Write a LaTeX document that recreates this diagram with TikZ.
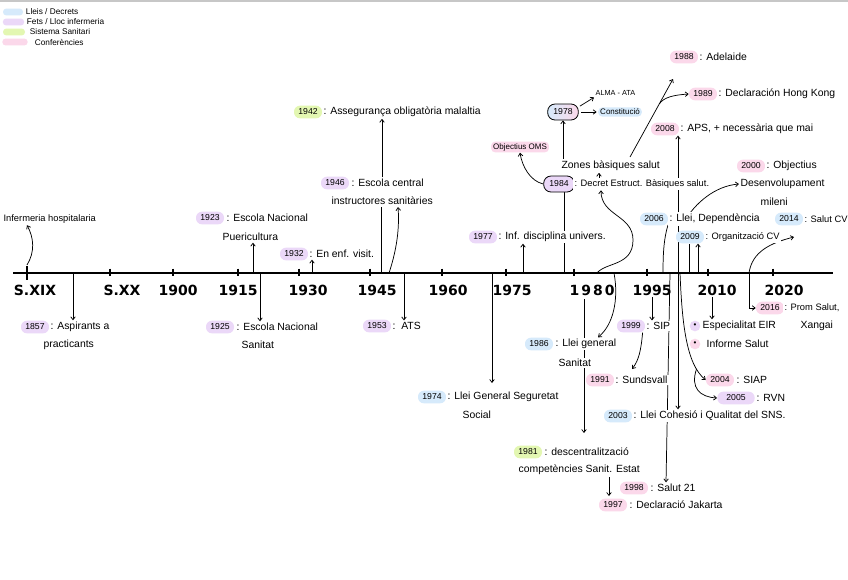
\documentclass[tikz,border=0pt]{standalone}
\usepackage{fontspec}
\setmainfont{Liberation Sans}
\newfontfamily\axisfont{DejaVu Sans}
\usetikzlibrary{arrows.meta,backgrounds}
\definecolor{cblue}{HTML}{D6EAFB}
\definecolor{cpurple}{HTML}{EBD8F8}
\definecolor{cgreen}{HTML}{E3F7B2}
\definecolor{cpink}{HTML}{FBD8EA}
\begin{document}
\begin{tikzpicture}[x=0.75pt,y=-0.75pt,
  >={Straight Barb[length=2.2pt,width=3.4pt]},
  yr/.style={rounded corners=4.5pt, minimum height=9.5pt, minimum width=21pt, inner xsep=1.5pt, inner ysep=0pt, font=\fontsize{6.5}{7}\selectfont},
  bl/.style={yr, fill=cblue}, pu/.style={yr, fill=cpurple}, gr/.style={yr, fill=cgreen}, pk/.style={yr, fill=cpink},
  oval/.style={yr, draw, line width=0.6pt, rounded corners=5.5pt, minimum height=12pt, minimum width=23pt},
  hl/.style={rounded corners=3pt, inner xsep=1.5pt, inner ysep=1.2pt, font=\fontsize{6}{7}\selectfont},
  txt/.style={anchor=west, inner xsep=1pt, inner ysep=1.2pt, fill=white, font=\fontsize{7.8}{9}\selectfont},
  sm/.style={font=\fontsize{7}{8}\selectfont},
  lgd/.style={rounded corners=2.5pt, minimum height=5.2pt, inner sep=0pt},
  lgt/.style={anchor=west, inner sep=0.5pt, font=\fontsize{6.2}{7}\selectfont},
  lbl/.style={inner sep=1pt, font={\axisfont\fontsize{10.5}{12}\selectfont\bfseries}},
  conn/.style={line width=0.55pt},
  tick/.style={line width=1pt}]
\useasboundingbox (0,0) rectangle (848,579);
\draw[black!22, line width=1.5pt] (0,1) -- (848,1);
% legend
\node[lgd, fill=cblue, minimum width=15pt] (lg1) at (13,12) {};
\node[lgt] (lt1) at (25,12) {Lleis / Decrets};
\node[lgd, fill=cpurple, minimum width=16pt] (lg2) at (13.5,22) {};
\node[lgt] (lt2) at (26,22) {Fets / Lloc infermeria};
\node[lgd, fill=cgreen, minimum width=16.5pt] (lg3) at (14,32) {};
\node[lgt] (lt3) at (29,32) {Sistema Sanitari};
\node[lgd, fill=cpink, minimum width=19pt] (lg4) at (15,42) {};
\node[lgt] (lt4) at (34,42) {Conferències};
% axis
\draw[line width=1.5pt] (13,273) -- (833,273);
\draw[line width=1.2pt] (27,266) -- (27,280);
\foreach \x in {110,173,238,299,370,442,506,574,647,708,773}
  \draw[tick] (\x,268.5) -- (\x,276);
\node[lbl] (l0) at (35,290) {S.XIX};
\node[lbl] (l1) at (122,290) {S.XX};
\node[lbl] (l2) at (178,290) {1900};
\node[lbl] (l3) at (238,290) {1915};
\node[lbl] (l4) at (308,290) {1930};
\node[lbl] (l5) at (377,290) {1945};
\node[lbl] (l6) at (448,290) {1960};
\node[lbl] (l7) at (512,290) {1975};
\node[lbl] (l8) at (592,290) {1\hspace{1.5pt}9\hspace{1.5pt}8\hspace{1.5pt}0};
\node[lbl] (l9) at (652,290) {1995};
\node[lbl] (l10) at (717,290) {2010};
\node[lbl] (l11) at (784,290) {2020};
% ---- events
\node[txt, sm] (t1800) at (2,219) {Infermeria hospitalaria};
\node[pu] (p1857) at (35,327) {1857};
\node[txt] (t1857) at (49,327) {: Aspirants a};
\node[txt] (u1857) at (42,345) {practicants};
\node[pu] (p1923) at (210,218) {1923};
\node[txt] (t1923) at (225,218) {: Escola Nacional};
\node[txt] (u1923) at (221,237) {Puericultura};
\node[pu] (p1925) at (220,327) {1925};
\node[txt] (t1925) at (235,327) {: Escola Nacional};
\node[txt] (u1925) at (240,345) {Sanitat};
\node[pu] (p1932) at (294,254) {1932};
\node[txt] (t1932) at (308,254) {: En enf. visit.};
\node[gr] (p1942) at (308,112) {1942};
\node[txt] (t1942) at (322,112) {: Assegurança obligatòria malaltia};
\node[pu] (p1946) at (335,183) {1946};
\node[txt] (t1946) at (350,183) {: Escola central};
\node[txt] (u1946) at (330,201) {instructores sanitàries};
\node[pu] (p1953) at (377,326) {1953};
\node[txt] (t1953) at (391,326) {:\ \ ATS};
\node[bl] (p1974) at (432,397) {1974};
\node[txt] (t1974) at (446,397) {: Llei General Seguretat};
\node[txt] (u1974) at (461,415) {Social};
\node[pu] (p1977) at (483,237) {1977};
\node[txt] (t1977) at (497,237) {: Inf. disciplina univers.};
\node[oval, left color=cblue, right color=cpink] (p1978) at (563,112) {1978};
\node[txt, font=\fontsize{5.5}{6}\selectfont] (alma) at (594,93) {ALMA - ATA};
\node[hl, fill=cblue] (const) at (620,112) {Constitució};
\node[txt] (zones) at (560,166) {Zones bàsiques salut};
\node[oval, fill=cpurple] (p1984) at (559,184) {1984};
\node[txt, sm] (t1984) at (573,184) {: Decret Estruct. Bàsiques salut.};
\node[hl, fill=cpink] (oms) at (520,147) {Objectius OMS};
\node[pk] (p1988) at (684,57) {1988};
\node[txt] (t1988) at (698,57) {: Adelaide};
\node[pk] (p1989) at (703,94) {1989};
\node[txt] (t1989) at (717,94) {: Declaración Hong Kong};
\node[pk] (p2008) at (665,129) {2008};
\node[txt] (t2008) at (679,129) {: APS, + necessària que mai};
\node[pk] (p2000) at (751,166) {2000};
\node[txt] (t2000) at (765,166) {: Objectius};
\node[txt] (u2000) at (739,184) {Desenvolupament};
\node[txt] (v2000) at (759,202) {mileni};
\node[bl] (p2006) at (654,219) {2006};
\node[txt] (t2006) at (668,219) {: Llei, Dependència};
\node[bl] (p2009) at (690,237) {2009};
\node[txt, sm] (t2009) at (704,237) {: Organització CV};
\node[bl] (p2014) at (789,219) {2014};
\node[txt, sm] (t2014) at (803,219) {: Salut CV};
\node[pk] (p2016) at (770,308) {2016};
\node[txt, sm] (t2016) at (783,308) {: Prom Salut,};
\node[txt] (u2016) at (799,326) {Xangai};
\node[bl] (p1986) at (539,344) {1986};
\node[txt] (t1986) at (554,344) {: Llei general};
\node[txt] (u1986) at (557,363) {Sanitat};
\node[gr] (p1981) at (528,452) {1981};
\node[txt] (t1981) at (543,452) {: descentralització};
\node[txt] (u1981) at (517,470) {competències Sanit. Estat};
\node[pk] (p1998) at (634,488) {1998};
\node[txt] (t1998) at (649,488) {: Salut 21};
\node[pk] (p1997) at (613,505) {1997};
\node[txt] (t1997) at (628,505) {: Declaració Jakarta};
\node[pu] (p1999) at (631,326) {1999};
\node[txt] (t1999) at (645,326) {: SIP};
\node[pk] (p1991) at (600,380) {1991};
\node[txt] (t1991) at (614,380) {: Sundsvall};
\node[bl] (p2003) at (618,416) {2003};
\node[txt] (t2003) at (632,416) {: Llei Cohesió i Qualitat del SNS.};
\node[pk] (p2004) at (720,380) {2004};
\node[txt] (t2004) at (735,380) {: SIAP};
\node[pu, minimum width=28pt] (p2005) at (736,398) {2005};
\node[txt] (t2005) at (755,398) {: RVN};
\node[circle, fill=cpurple, minimum size=8pt, inner sep=0pt, font=\fontsize{6}{6}\selectfont] (d1) at (695,326) {•};
\node[txt] (eir) at (701,326) {Especialitat EIR};
\node[circle, fill=cpink, minimum size=8pt, inner sep=0pt, font=\fontsize{6}{6}\selectfont] (d2) at (695,344) {•};
\node[txt] (inf) at (705,344) {Informe Salut};
% ---- connectors
\begin{pgfonlayer}{background}
\fill[white] (0,0) rectangle (848,579);
\coordinate (a1800) at (27,265);
\draw[conn,->] (a1800) .. controls (35,252) and (34,238) .. (t1800.south -| a1800);
\coordinate (a1857) at (73,273);
\draw[conn,->] (a1857) -- (a1857 |- t1857.north);
\coordinate (a1923) at (253,273);
\draw[conn,->] (a1923) -- (a1923 |- u1923.south);
\coordinate (a1925) at (260,273);
\draw[conn,->] (a1925) -- (a1925 |- t1925.north);
\coordinate (a1932) at (312,273);
\draw[conn,->] (a1932) -- (a1932 |- t1932.south);
\coordinate (a1946) at (381,273);
\draw[conn] (a1946) -- (a1946 |- u1946.south);
\coordinate (a1942) at (382,0);
\draw[conn,->] (a1942 |- t1946.north) -- (a1942 |- t1942.south);
\coordinate (b1946) at (389,273);
\coordinate (e1946) at (398,207);
\draw[conn,->] (b1946) .. controls (395,255) and (400,232) .. (e1946);
\coordinate (a1953) at (404,273);
\draw[conn,->] (a1953) -- (a1953 |- t1953.north);
\coordinate (a1974) at (492,273);
\coordinate (e1974) at (492,383);
\draw[conn,->] (a1974) -- (e1974);
\coordinate (a1977) at (523,273);
\draw[conn,->] (a1977) -- (a1977 |- t1977.south);
% 1978 / 1984 cluster
\draw[conn,->] (zones.north -| p1978) -- (p1978.south);
\draw[conn,->,shorten <=1pt] (p1978.18) -- (alma.south west);
\draw[conn,->,shorten <=2pt,shorten >=1pt] (p1978.east) -- (const.west);
\coordinate (x599) at (599,0);
\draw[conn,->] (t1984.north -| x599) -- (zones.south -| x599);
\coordinate (a1984) at (564,273);
\draw[conn] (a1984) -- (a1984 |- p1984.south);
\draw[conn,->] (p1984.west) .. controls (530,181) and (522,166) .. (oms.south);
\coordinate (s1984) at (597,273);
\coordinate (x600) at (601,0);
\draw[conn,->] (s1984) .. controls (606,262) and (633,266) .. (633,240) .. controls (633,215) and (601,216) .. (t1984.south -| x600);
\coordinate (z1) at (630,157);
\coordinate (z2) at (673,79);
\draw[conn,->] (z1) -- coordinate[pos=0.68] (zb) (z2);
\draw[conn,->] (zb) .. controls (664,97) and (674,95) .. (p1989.west);
% 2003 / 2008 line
\coordinate (x678) at (678,0);
\draw[conn,<->] (t2003.north -| x678) -- (p2008.south -| x678);
% 2000 curve
\coordinate (o2000) at (684,222);
\draw[conn,->] (o2000) .. controls (695,203) and (715,186) .. (u2000.west);
% 2006 curve
\coordinate (a2006) at (663,273);
\coordinate (e2006) at (668,225);
\draw[conn] (a2006) .. controls (663,252) and (664,238) .. (e2006);
% 2009
\coordinate (a2009) at (689,273);
\coordinate (b2009) at (698,273);
\draw[conn] (a2009) -- (a2009 |- p2009.south);
\draw[conn,->] (b2009) -- (b2009 |- p2009.south);
% Salut 21
\coordinate (a1998) at (670,273);
\coordinate (x666) at (666,0);
\draw[conn,->] (a1998) -- (t1998.north -| x666);
% 2014 / 2016
\coordinate (a2014) at (749,273);
\coordinate (e2014) at (794,237);
\draw[conn,->] (a2014) .. controls (752,252) and (770,243) .. (e2014);
\draw[conn,->] (a2014) -- (a2014 |- p2016.west) -- (p2016.west);
% 1986
\coordinate (a1986) at (614,273);
\coordinate (x598) at (598,0);
\draw[conn,->] (a1986) .. controls (619,300) and (613,325) .. (t1986.north -| x598);
% 1981
\coordinate (a1981) at (584,299);
\coordinate (e1981) at (584,433);
\draw[conn,->] (a1981) -- (e1981);
\coordinate (x609) at (609,0);
\coordinate (e1997) at (609,496);
\draw[conn,->] (u1981.south -| x609) -- (e1997);
% 1999 / 1991
\draw[conn,->] (l9.south) -- (l9.south |- t1999.north);
\coordinate (e1991) at (632,369);
\draw[conn,->] ([xshift=-2pt]p1999.south east) .. controls (641,350) and (639,360) .. (e1991);
% 2004 / 2005
\coordinate (a2004) at (680,273);
\draw[conn,->] (a2004) .. controls (682,322) and (686,364) .. coordinate[pos=0.82] (b2005) (p2004.west);
\draw[conn,->] (b2005) .. controls (690,388) and (700,397) .. (p2005.west);
% 2010
\coordinate (x713) at (712,0);
\draw[conn,->] (l10.south -| x713) -- (eir.north -| x713);
\end{pgfonlayer}
\end{tikzpicture}
\end{document}
